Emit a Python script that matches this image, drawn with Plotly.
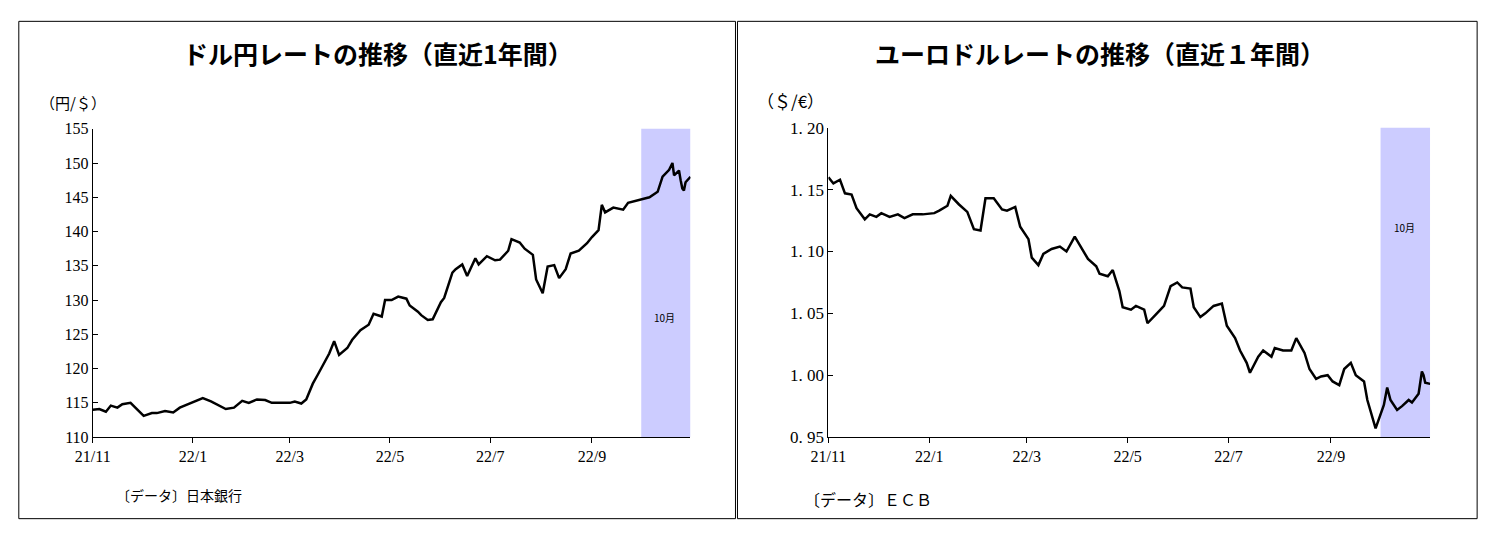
import plotly.graph_objects as go

jpy_dates = ["2021-11-01","2021-11-05","2021-11-09","2021-11-12","2021-11-16","2021-11-19","2021-11-24","2021-11-29","2021-12-02","2021-12-07","2021-12-10","2021-12-15","2021-12-20","2021-12-24","2021-12-29",
"2022-01-04","2022-01-07","2022-01-12","2022-01-17","2022-01-21","2022-01-26","2022-01-31","2022-02-04","2022-02-09","2022-02-14","2022-02-18","2022-02-24","2022-03-01","2022-03-04","2022-03-08","2022-03-11","2022-03-15","2022-03-18","2022-03-23","2022-03-25","2022-03-28","2022-03-31",
"2022-04-05","2022-04-08","2022-04-13","2022-04-18","2022-04-21","2022-04-26","2022-04-28","2022-05-02","2022-05-06","2022-05-11","2022-05-13","2022-05-18","2022-05-20","2022-05-24","2022-05-27","2022-06-01","2022-06-03","2022-06-08","2022-06-10","2022-06-14","2022-06-17","2022-06-22","2022-06-24","2022-06-29",
"2022-07-04","2022-07-07","2022-07-12","2022-07-14","2022-07-19","2022-07-22","2022-07-27","2022-07-29","2022-08-02","2022-08-05","2022-08-09","2022-08-12","2022-08-16","2022-08-19","2022-08-24","2022-08-29","2022-09-01","2022-09-05","2022-09-07","2022-09-09","2022-09-14","2022-09-20","2022-09-23","2022-09-28",
"2022-10-03","2022-10-06","2022-10-11","2022-10-14","2022-10-18","2022-10-20","2022-10-21","2022-10-24","2022-10-25","2022-10-26","2022-10-27","2022-10-28","2022-10-31"]
jpy_vals = [114.0,114.1,113.7,114.6,114.3,114.8,115.0,113.9,113.1,113.5,113.5,113.8,113.6,114.3,114.8,
115.5,115.7,115.2,114.6,114.1,114.3,115.3,115.0,115.5,115.4,115.0,115.0,115.0,115.2,114.9,115.5,117.8,119.1,121.2,122.2,124.0,122.0,
123.0,124.2,125.6,126.4,128.0,127.6,130.0,130.0,130.5,130.2,129.2,128.3,127.8,127.1,127.2,129.7,130.3,134.0,134.5,135.2,133.5,136.1,135.2,136.4,
135.8,135.9,137.2,138.9,138.4,137.5,136.6,133.0,131.0,134.9,135.1,133.2,134.5,136.8,137.2,138.3,139.2,140.2,143.9,142.8,143.5,143.2,144.2,144.5,
144.9,145.0,145.8,148.0,149.0,150.0,148.2,148.9,147.5,146.3,146.0,147.2,148.0]

eur_dates = ["2021-11-01","2021-11-04","2021-11-08","2021-11-11","2021-11-15","2021-11-18","2021-11-23","2021-11-26","2021-11-30","2021-12-03","2021-12-08","2021-12-13","2021-12-17","2021-12-22","2021-12-28",
"2022-01-04","2022-01-07","2022-01-12","2022-01-14","2022-01-19","2022-01-24","2022-01-28","2022-02-01","2022-02-04","2022-02-09","2022-02-14","2022-02-17","2022-02-22","2022-02-25","2022-03-02","2022-03-04","2022-03-08","2022-03-11","2022-03-16","2022-03-21","2022-03-25","2022-03-30",
"2022-04-04","2022-04-07","2022-04-12","2022-04-14","2022-04-19","2022-04-22","2022-04-26","2022-04-28","2022-05-03","2022-05-06","2022-05-11","2022-05-13","2022-05-18","2022-05-23","2022-05-27","2022-05-31","2022-06-03","2022-06-08","2022-06-10","2022-06-14","2022-06-17","2022-06-22","2022-06-27","2022-06-30",
"2022-07-05","2022-07-08","2022-07-12","2022-07-14","2022-07-19","2022-07-22","2022-07-27","2022-07-29","2022-08-03","2022-08-08","2022-08-11","2022-08-16","2022-08-19","2022-08-23","2022-08-26","2022-08-30","2022-09-02","2022-09-06","2022-09-09","2022-09-13","2022-09-16","2022-09-21","2022-09-23","2022-09-27","2022-09-28",
"2022-10-03","2022-10-05","2022-10-07","2022-10-11","2022-10-14","2022-10-18","2022-10-20","2022-10-24","2022-10-26","2022-10-27","2022-10-28","2022-10-31"]
eur_vals = [1.160,1.155,1.158,1.147,1.146,1.135,1.126,1.130,1.128,1.131,1.128,1.130,1.127,1.130,1.130,
1.131,1.133,1.137,1.145,1.138,1.132,1.118,1.117,1.143,1.143,1.134,1.133,1.136,1.120,1.110,1.095,1.089,1.098,1.102,1.104,1.100,1.112,
1.100,1.094,1.088,1.082,1.080,1.085,1.068,1.055,1.053,1.056,1.053,1.042,1.049,1.056,1.072,1.075,1.071,1.070,1.055,1.047,1.050,1.056,1.058,1.040,
1.030,1.020,1.010,1.002,1.015,1.020,1.015,1.022,1.020,1.020,1.030,1.018,1.005,0.997,0.999,1.000,0.995,0.992,1.005,1.010,1.000,0.995,0.980,0.963,0.957,
0.976,0.990,0.980,0.972,0.975,0.980,0.978,0.985,1.003,1.000,0.994,0.993]

x_ticks = ["2021-11-01","2022-01-01","2022-03-01","2022-05-01","2022-07-01","2022-09-01"]
x_labels = ["21/11","22/1","22/3","22/5","22/7","22/9"]
jpy_ticks = [110,115,120,125,130,135,140,145,150,155]
eur_ticks = [0.95,1.00,1.05,1.10,1.15,1.20]
eur_labels = ["0. 95","1. 00","1. 05","1. 10","1. 15","1. 20"]

def px(x):
    return (x - 17.2) / 0.9884 / 1494
def py(y):
    return 1 - (y - 7.6) / 0.97 / 540

serif = "Liberation Serif"
jp = "Noto Sans CJK JP"
fig = go.Figure()
fig.add_trace(go.Scatter(x=jpy_dates, y=jpy_vals, mode="lines", line=dict(color="black", width=2.5), xaxis="x", yaxis="y"))
fig.add_trace(go.Scatter(x=eur_dates, y=eur_vals, mode="lines", line=dict(color="black", width=2.5), xaxis="x2", yaxis="y2"))

ax = dict(type="date", range=["2021-11-01","2022-10-31"], tickvals=x_ticks, ticktext=x_labels,
          showgrid=False, showline=True, linecolor="black", linewidth=1, ticks="outside", ticklen=5,
          tickcolor="black", tickfont=dict(family=serif, size=16, color="black"), zeroline=False)
fig.update_layout(
    width=1494, height=540, margin=dict(l=0, r=0, t=0, b=0), showlegend=False,
    plot_bgcolor="white", paper_bgcolor="white",
    xaxis=dict(domain=[px(92), px(690)], anchor="y", **ax),
    xaxis2=dict(domain=[px(828), px(1430)], anchor="y2", **ax),
    yaxis=dict(domain=[py(438), py(128)], range=[110, 155], tickvals=jpy_ticks, showgrid=False, showline=True,
               linecolor="black", ticks="inside", ticklen=5, tickcolor="black", anchor="x",
               tickfont=dict(family=serif, size=16, color="black"), zeroline=False),
    yaxis2=dict(domain=[py(438), py(127)], range=[0.95, 1.20], tickvals=eur_ticks, ticktext=eur_labels, showgrid=False,
                showline=True, linecolor="black", ticks="inside", ticklen=5, tickcolor="black", anchor="x2",
                tickfont=dict(family=serif, size=17, color="black"), zeroline=False),
)
fig.add_shape(type="rect", xref="x", yref="y domain", x0="2022-10-01", x1="2022-10-31", y0=0, y1=1,
              fillcolor="#ccccff", line_width=0, layer="below")
fig.add_shape(type="rect", xref="x2", yref="y2 domain", x0="2022-10-01", x1="2022-10-31", y0=0, y1=1,
              fillcolor="#ccccff", line_width=0, layer="below")
fig.add_shape(type="rect", xref="paper", yref="paper", x0=px(18), x1=px(735), y0=py(520), y1=py(20),
              line=dict(color="black", width=1))
fig.add_shape(type="rect", xref="paper", yref="paper", x0=px(737), x1=px(1477), y0=py(520), y1=py(20),
              line=dict(color="black", width=1))
anns = [
    (377, 52, "<b>ドル円レートの推移（直近1年間）</b>", 25),
    (1100, 52, "<b>ユーロドルレートの推移（直近１年間）</b>", 25),
    (72, 102, "（円/＄）", 15),
    (790, 100, "（＄/€）", 17),
    (664, 318, "10月", 10),
    (1404, 227, "10月", 10),
    (178, 496, "〔データ〕日本銀行", 14),
    (868, 500, "〔データ〕ＥＣＢ", 16),
]
for x, y, t, s in anns:
    fig.add_annotation(x=px(x), y=py(y), xref="paper", yref="paper", text=t, showarrow=False,
                       font=dict(family=jp, size=s, color="black"), xanchor="center", yanchor="middle")
fig.write_html("out.html", config={"displayModeBar": False},
               post_script="document.body.style.margin='0';document.body.style.padding='0';")
